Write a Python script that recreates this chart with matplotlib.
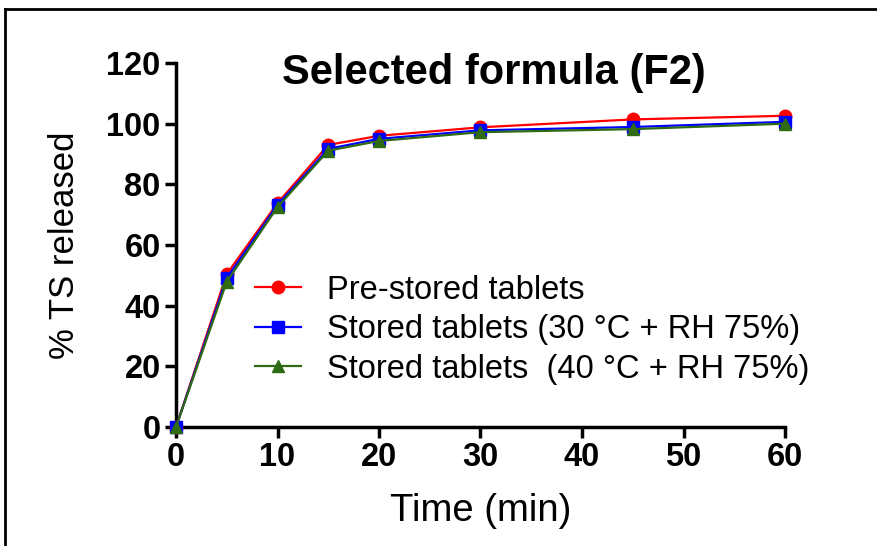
import matplotlib
matplotlib.use("Agg")
import matplotlib.pyplot as plt
from matplotlib.lines import Line2D

time_min = [0, 5, 10, 15, 20, 30, 45, 60]
pre_stored = [0, 50.4, 73.8, 93.0, 96.0, 98.8, 101.4, 102.6]
stored_30 = [0, 49.1, 73.2, 91.7, 95.0, 97.8, 98.9, 100.6]
stored_40 = [0, 47.9, 72.5, 91.1, 94.3, 97.2, 98.2, 100.0]
labels = ["Pre-stored tablets", "Stored tablets (30 \u00b0C + RH 75%)",
          "Stored tablets  (40 \u00b0C + RH 75%)"]
xticks = [0, 10, 20, 30, 40, 50, 60]
yticks = [0, 20, 40, 60, 80, 100, 120]

plt.rcParams['font.family'] = ['Liberation Sans', 'DejaVu Sans']

fig = plt.figure(figsize=(8.77, 5.46), dpi=100)
ax = fig.add_axes([176/877, 119/546, (785-176)/877, (427-63)/546])

ax.plot(time_min, pre_stored, color='#ff0000', marker='o', ms=9, lw=1.6, clip_on=False, zorder=3, label=labels[0])
ax.plot(time_min, stored_30, color='#0000ff', marker='s', ms=8.5, lw=1.6, clip_on=False, zorder=4, label=labels[1])
ax.plot(time_min, stored_40, color='#2e6b12', marker='^', ms=8.5, lw=1.6, clip_on=False, zorder=5, label=labels[2])

ax.set_xlim(0, 60)
ax.set_ylim(0, 120)
ax.set_xticks(xticks)
ax.set_yticks(yticks)
for s in ['top', 'right']:
    ax.spines[s].set_visible(False)
for s in ['left', 'bottom']:
    ax.spines[s].set_linewidth(2.5)
ax.tick_params(direction='out', length=8, width=2.5, labelsize=23.5, pad=3)
for lab in ax.get_xticklabels() + ax.get_yticklabels():
    lab.set_fontweight('bold')

ax.set_xlabel("Time (min)", fontsize=27.5, labelpad=14)
ax.set_ylabel("% TS released", fontsize=25, labelpad=18)
fig.text(494/877, 1 - 73/546, "Selected formula (F2)", fontsize=30, fontweight='bold',
         ha='center', va='center')

leg = ax.legend(loc='upper left', bbox_to_anchor=(0.13, 0.418), frameon=False,
                fontsize=23.5, handlelength=1.4, labelspacing=0.26, handletextpad=0.8,
                borderaxespad=0, borderpad=0)

fig.add_artist(Line2D([5/877, 1], [1 - 9/546, 1 - 9/546], color='black', lw=2, transform=fig.transFigure))
fig.add_artist(Line2D([5/877, 5/877], [0, 1 - 9/546], color='black', lw=2, transform=fig.transFigure))

fig.savefig("out.png", dpi=100)
